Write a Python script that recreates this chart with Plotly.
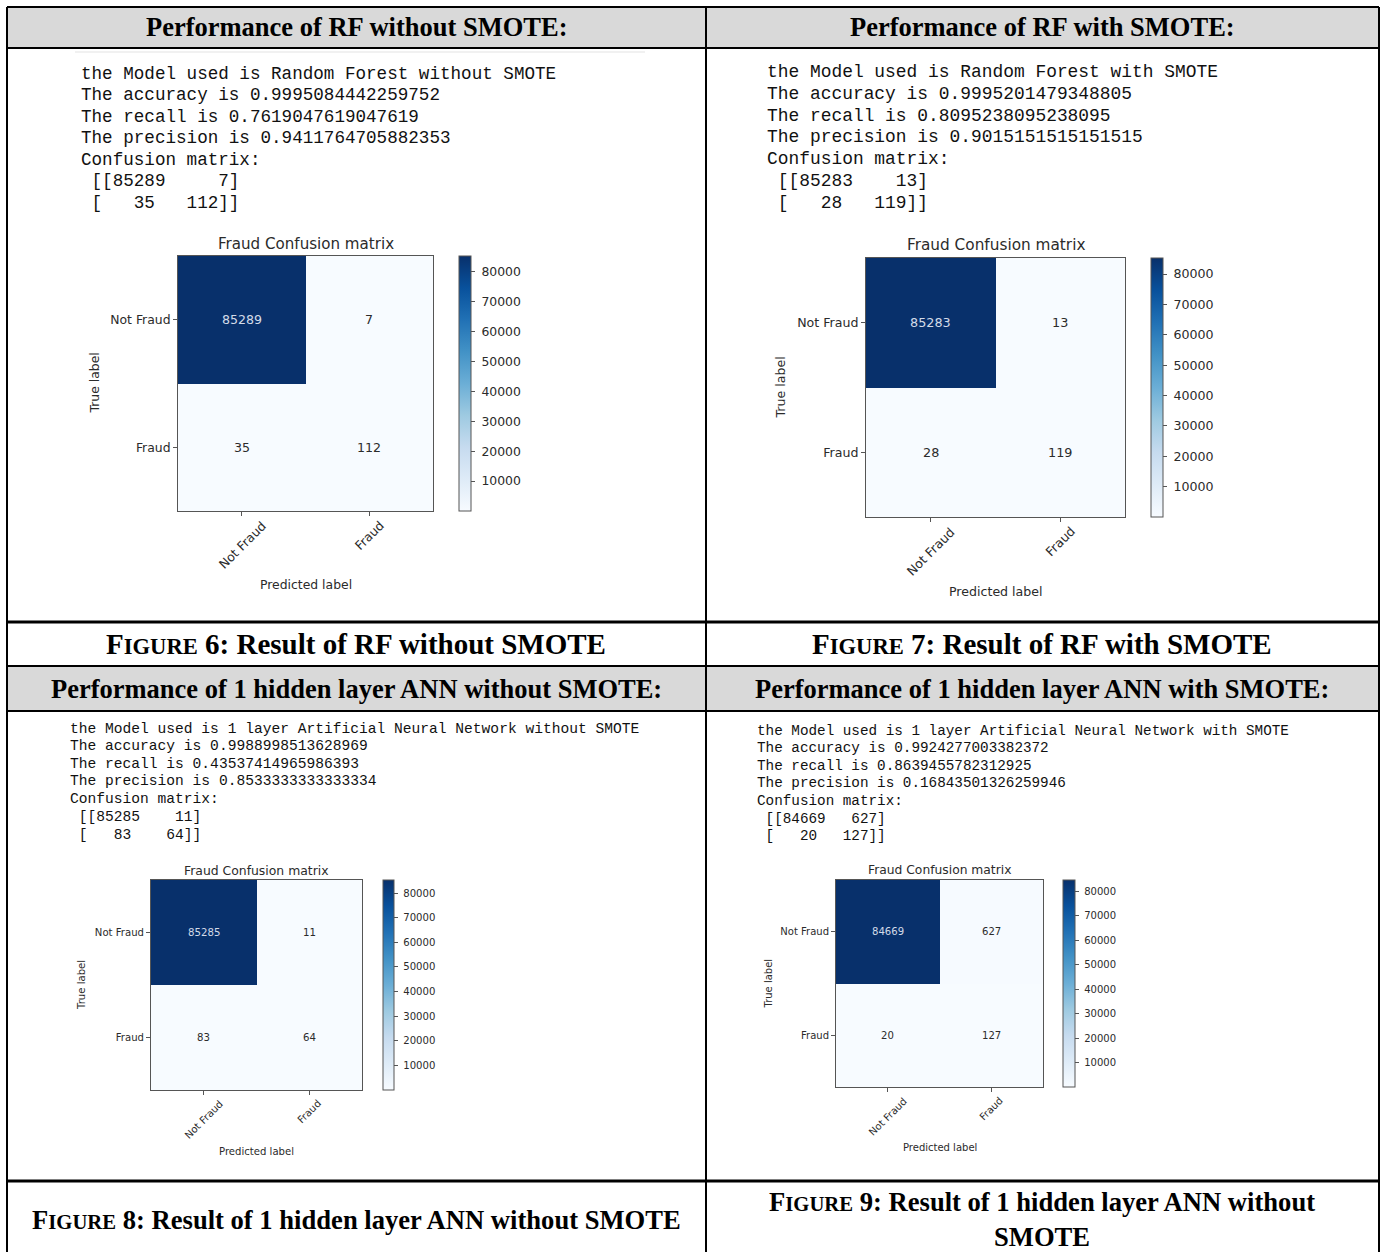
import plotly.graph_objects as go

W, H = 1385, 1252

# ---------------- data ----------------
class_labels = ["Not Fraud", "Fraud"]
headers = [
    "Performance of RF without SMOTE:",
    "Performance of RF with SMOTE:",
    "Performance of 1 hidden layer ANN without SMOTE:",
    "Performance of 1 hidden layer ANN with SMOTE:",
]
model_names = [
    "Random Forest without SMOTE",
    "Random Forest with SMOTE",
    "1 layer Artificial Neural Network without SMOTE",
    "1 layer Artificial Neural Network with SMOTE",
]
accuracy = [0.9995084442259752, 0.9995201479348805, 0.9988998513628969, 0.9924277003382372]
recall = [0.7619047619047619, 0.8095238095238095, 0.43537414965986393, 0.8639455782312925]
precision = [0.9411764705882353, 0.9015151515151515, 0.8533333333333334, 0.16843501326259946]
cm_rf = [[85289, 7], [35, 112]]
cm_rf_smote = [[85283, 13], [28, 119]]
cm_ann = [[85285, 11], [83, 64]]
cm_ann_smote = [[84669, 627], [20, 127]]
matrices = [cm_rf, cm_rf_smote, cm_ann, cm_ann_smote]
caption_nums = ["6", "7", "8", "9"]
caption_texts = [
    "Result of RF without SMOTE",
    "Result of RF with SMOTE",
    "Result of 1 hidden layer ANN without SMOTE",
    "Result of 1 hidden layer ANN without<br>SMOTE",
]
cbar_ticks = [10000, 20000, 30000, 40000, 50000, 60000, 70000, 80000]
plot_title = "Fraud Confusion matrix"
x_title = "Predicted label"
y_title = "True label"

# ---------------- layout helpers (pixel -> paper) ----------------
def X(px):
    return px / W

def Y(py):
    return 1 - py / H

panels = [
    dict(box=(178, 433, 256, 511), cbar=(459, 471), title_y=244, ylab_x=94, xlab_y=585,
         text_x=79, lines=[74, 95, 117, 138, 160, 181, 203], mono=17.6,
         fs_title=15.1, fs_tick=12.4, fs_cell=12.6),
    dict(box=(866, 1125, 258, 517), cbar=(1151, 1163), title_y=245, ylab_x=780, xlab_y=591,
         text_x=765, lines=[72, 94, 116, 137, 159, 181, 203], mono=17.9,
         fs_title=15.3, fs_tick=12.6, fs_cell=12.8),
    dict(box=(151, 362, 880, 1090), cbar=(383, 394), title_y=870, ylab_x=81, xlab_y=1151,
         text_x=68, lines=[729, 746, 764, 781, 799, 817, 835], mono=14.6,
         fs_title=12.4, fs_tick=10.1, fs_cell=10.2),
    dict(box=(836, 1043, 880, 1087), cbar=(1063, 1075), title_y=870, ylab_x=768, xlab_y=1147,
         text_x=755, lines=[731, 748, 766, 783, 801, 819, 836], mono=14.3,
         fs_title=12.3, fs_tick=10.0, fs_cell=10.1),
]

blues = [
    [0.0, "#f7fbff"], [0.125, "#deebf7"], [0.25, "#c6dbef"], [0.375, "#9ecae1"],
    [0.5, "#6baed6"], [0.625, "#4292c6"], [0.75, "#2171b5"], [0.875, "#08519c"],
    [1.0, "#08306b"],
]

DARK = "#2b2b2b"
SPINE = "#555555"

fig = go.Figure()
annotations = []
shapes = []

def np_format(cm):
    w = max(len(str(v)) for row in cm for v in row)
    rows = [" ".join(str(v).rjust(w) for v in row) for row in cm]
    return [" [[" + rows[0] + "]", " [" + rows[1] + "]]"]

for i, (p, cm) in enumerate(zip(panels, matrices)):
    n = "" if i == 0 else str(i + 1)
    x0, x1, y0, y1 = p["box"]
    c0, c1 = p["cbar"]
    zvals = [v for row in cm for v in row]
    zmax = max(zvals)
    fig.add_trace(go.Heatmap(
        z=cm, x=class_labels, y=class_labels, colorscale=blues,
        zmin=min(zvals), zmax=zmax,
        xaxis="x" + n, yaxis="y" + n, hoverinfo="skip",
        colorbar=dict(
            x=X(c0), xanchor="left", y=Y(y1), yanchor="bottom",
            len=y1 - y0, lenmode="pixels", thickness=c1 - c0, thicknessmode="pixels",
            xpad=0, ypad=0, outlinewidth=1, outlinecolor=SPINE,
            ticks="outside", ticklen=4, tickcolor=SPINE, tickwidth=1,
            tickvals=cbar_ticks, ticktext=["\u00a0" + str(t) for t in cbar_ticks],
            tickfont=dict(family="DejaVu Sans", size=p["fs_tick"], color=DARK),
        ),
    ))
    axis_common = dict(showline=True, mirror=True, linecolor=SPINE, linewidth=1,
                       ticks="outside", ticklen=4, tickcolor=SPINE, showgrid=False,
                       zeroline=False, fixedrange=True)
    fig.layout["xaxis" + n] = dict(axis_common, domain=[X(x0), X(x1)], anchor="y" + n,
                                   showticklabels=False)
    fig.layout["yaxis" + n] = dict(axis_common, domain=[Y(y1), Y(y0)], anchor="x" + n,
                                   autorange="reversed",
                                   tickfont=dict(family="DejaVu Sans", size=p["fs_tick"], color=DARK))
    # cell values
    for r, rl in enumerate(class_labels):
        for c, clab in enumerate(class_labels):
            v = cm[r][c]
            annotations.append(dict(
                x=clab, y=rl, xref="x" + n, yref="y" + n, text=str(v), showarrow=False,
                font=dict(family="DejaVu Sans", size=p["fs_cell"],
                          color="#d3dbe8" if v > zmax / 2 else DARK)))
    # rotated x tick labels
    for clab in class_labels:
        off = 8 + 0.354 * (len(clab) * 0.55 * p["fs_tick"] + p["fs_tick"])
        annotations.append(dict(
            x=clab, xref="x" + n, y=Y(y1 + off), yref="paper", text=clab, textangle=-45,
            showarrow=False, xanchor="center", yanchor="middle",
            font=dict(family="DejaVu Sans", size=p["fs_tick"], color=DARK)))
    # titles
    cx = (x0 + x1) / 2
    annotations.append(dict(x=X(cx), y=Y(p["title_y"]), xref="paper", yref="paper",
                            text=plot_title, showarrow=False, xanchor="center", yanchor="middle",
                            font=dict(family="DejaVu Sans", size=p["fs_title"], color=DARK)))
    annotations.append(dict(x=X(cx), y=Y(p["xlab_y"]), xref="paper", yref="paper",
                            text=x_title, showarrow=False, xanchor="center", yanchor="middle",
                            font=dict(family="DejaVu Sans", size=p["fs_tick"], color=DARK)))
    annotations.append(dict(x=X(p["ylab_x"]), y=Y((y0 + y1) / 2), xref="paper", yref="paper",
                            text=y_title, showarrow=False, textangle=-90,
                            xanchor="center", yanchor="middle",
                            font=dict(family="DejaVu Sans", size=p["fs_tick"], color=DARK)))
    # console output text
    out_lines = [
        "the Model used is " + model_names[i],
        "The accuracy is " + repr(accuracy[i]),
        "The recall is " + repr(recall[i]),
        "The precision is " + repr(precision[i]),
        "Confusion matrix:",
    ] + np_format(cm)
    for ly, txt in zip(p["lines"], out_lines):
        annotations.append(dict(x=X(p["text_x"]), y=Y(ly), xref="paper", yref="paper",
                                text=txt.replace(" ", "\u00a0"), showarrow=False,
                                xanchor="left", yanchor="middle",
                                font=dict(family="Liberation Mono", size=p["mono"], color="#111111")))

# ---------------- table frame ----------------
L, R, T, V = 7, 1379, 7, 706
for (ya, yb) in [(7, 48), (666, 711)]:
    shapes.append(dict(type="rect", xref="paper", yref="paper", x0=X(L), x1=X(R),
                       y0=Y(yb), y1=Y(ya), fillcolor="#d9d9d9", line=dict(width=0), layer="below"))
for yy, lw in [(7, 2), (48, 2), (622, 3), (666, 2), (711, 2), (1181, 3)]:
    shapes.append(dict(type="line", xref="paper", yref="paper", x0=X(L), x1=X(R),
                       y0=Y(yy), y1=Y(yy), line=dict(color="black", width=lw)))
for xx in [L, V, R]:
    shapes.append(dict(type="line", xref="paper", yref="paper", x0=X(xx), x1=X(xx),
                       y0=Y(T), y1=Y(H + 5), line=dict(color="black", width=2)))
# faint notebook output separator
shapes.append(dict(type="line", xref="paper", yref="paper", x0=X(75), x1=X(645),
                   y0=Y(52), y1=Y(52), line=dict(color="#e3e3e3", width=1)))

# headers
header_pos = [(356, 27), (1042, 27), (356, 689), (1042, 689)]
for (hx, hy), txt in zip(header_pos, headers):
    annotations.append(dict(x=X(hx), y=Y(hy), xref="paper", yref="paper", text="<b>" + txt + "</b>",
                            showarrow=False, xanchor="center", yanchor="middle",
                            font=dict(family="Liberation Serif", size=26.5, color="black")))
# captions
caption_pos = [(356, 644, 29), (1042, 644, 29), (356, 1220, 26.6), (1042, 1219, 26.6)]
for (cx, cy, fs), num, txt in zip(caption_pos, caption_nums, caption_texts):
    small = round(fs * 0.78, 1)
    text = ("<b>F<span style='font-size:%spx'>IGURE</span> %s: %s</b>" % (small, num, txt))
    annotations.append(dict(x=X(cx), y=Y(cy), xref="paper", yref="paper", text=text,
                            showarrow=False, xanchor="center", yanchor="middle",
                            font=dict(family="Liberation Serif", size=fs, color="black")))

fig.update_layout(
    width=W, height=H, margin=dict(l=0, r=0, t=0, b=0),
    paper_bgcolor="white", plot_bgcolor="white",
    showlegend=False, annotations=annotations, shapes=shapes,
)

fig.write_html("out.html", post_script="document.body.style.margin='0';",
               config={"displayModeBar": False})
